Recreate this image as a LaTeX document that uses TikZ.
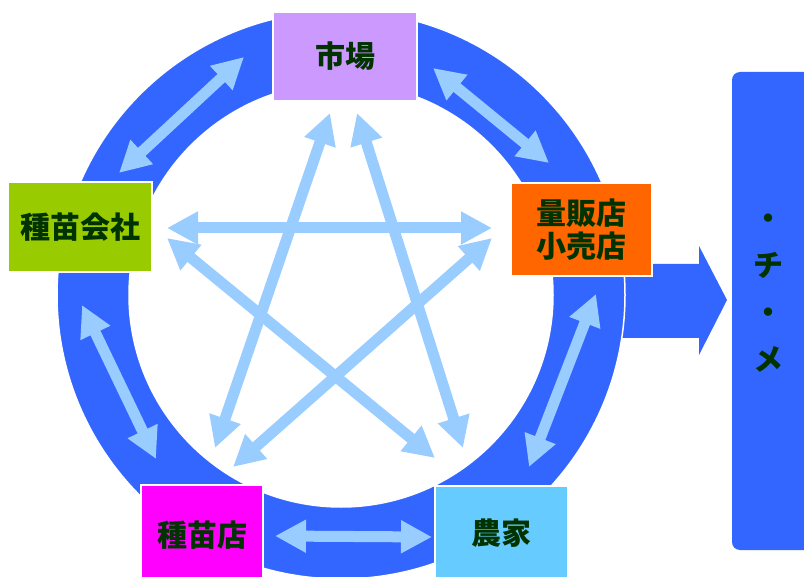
\documentclass[tikz,border=0pt]{standalone}
\usepackage{fontspec}
\newfontfamily\cjk{Noto Sans CJK JP}
\usetikzlibrary{arrows.meta}
\definecolor{ringblue}{HTML}{3366FF}
\definecolor{lightarr}{HTML}{99CCFF}
\definecolor{txt}{HTML}{003300}
\definecolor{cmarket}{HTML}{CC99FF}
\definecolor{cretail}{HTML}{FF6600}
\definecolor{cseedco}{HTML}{99CC00}
\definecolor{cseedshop}{HTML}{FF00FF}
\definecolor{cfarmer}{HTML}{66CCFF}
\begin{document}
\begin{tikzpicture}[x=1pt,y=-1pt,
  box/.style={draw=white, line width=1.5pt, text=txt,
    font=\cjk\bfseries\fontsize{30}{33}\selectfont, align=center, inner sep=0pt},
  dbl/.style={draw=lightarr, line width=11pt,
    {Triangle[length=31pt,width=31pt]}-{Triangle[length=31pt,width=31pt]}},
  ringstyle/.style={fill=ringblue, draw=white, line width=1.5pt, even odd rule},
  bigarrow/.style={fill=ringblue, draw=none}
]
\useasboundingbox (0,0) rectangle (804,577);
\clip (0,0) rectangle (804,577);

% big arrow to the right bar
\path[bigarrow] (590,264) -- (699,264) -- (699,246) -- (727,300) -- (699,355) -- (699,338) -- (590,338) -- cycle;

% ring
\coordinate (c) at (341,295);
\path[ringstyle] (c) circle[radius=284pt] (c) circle[radius=212pt];

% boxes
\node[box, fill=cmarket, minimum width=144pt, minimum height=89pt] (market) at (345,56.5) {市場};
\node[box, fill=cretail, minimum width=141pt, minimum height=93pt] (retail) at (581.5,229.5) {量販店\\小売店};
\node[box, fill=cseedco, minimum width=144pt, minimum height=90pt] (seedco) at (80,227) {種苗会社};
\node[box, fill=cseedshop, minimum width=122pt, minimum height=100pt] (seedshop) at (202,535) {種苗店};
\node[box, fill=cfarmer, minimum width=133pt, minimum height=94pt] (farmer) at (501.5,533) {農家};

% ring arrows
\coordinate (r1a) at (244,57);  \coordinate (r1b) at (119,173);
\coordinate (r2a) at (433,68);  \coordinate (r2b) at (549,163);
\coordinate (r3a) at (82,305);  \coordinate (r3b) at (156,459);
\coordinate (r4a) at (596,294); \coordinate (r4b) at (529,467);
\coordinate (r5a) at (275,536); \coordinate (r5b) at (432,537);
\draw[dbl] (r1a) -- (r1b);
\draw[dbl] (r2a) -- (r2b);
\draw[dbl] (r3a) -- (r3b);
\draw[dbl] (r4a) -- (r4b);
\draw[dbl] (r5a) -- (r5b);

% star arrows
\coordinate (s1a) at (330,113); \coordinate (s1b) at (215,448);
\coordinate (s2a) at (357,113); \coordinate (s2b) at (463,448);
\coordinate (s3a) at (167,228); \coordinate (s3b) at (492,228);
\coordinate (s4a) at (167,238); \coordinate (s4b) at (435,458);
\coordinate (s5a) at (492,238); \coordinate (s5b) at (233,467);
\draw[dbl] (s1a) -- (s1b);
\draw[dbl] (s2a) -- (s2b);
\draw[dbl] (s3a) -- (s3b);
\draw[dbl] (s4a) -- (s4b);
\draw[dbl] (s5a) -- (s5b);

% right bar
\path[fill=ringblue, rounded corners=8pt] (732,72) rectangle (840,550);
\node[text=txt, font=\cjk\bfseries\fontsize{30}{47}\selectfont, align=center, inner sep=0pt] (bartext) at (768,293) {・\\チ\\・\\メ};
\end{tikzpicture}
\end{document}
